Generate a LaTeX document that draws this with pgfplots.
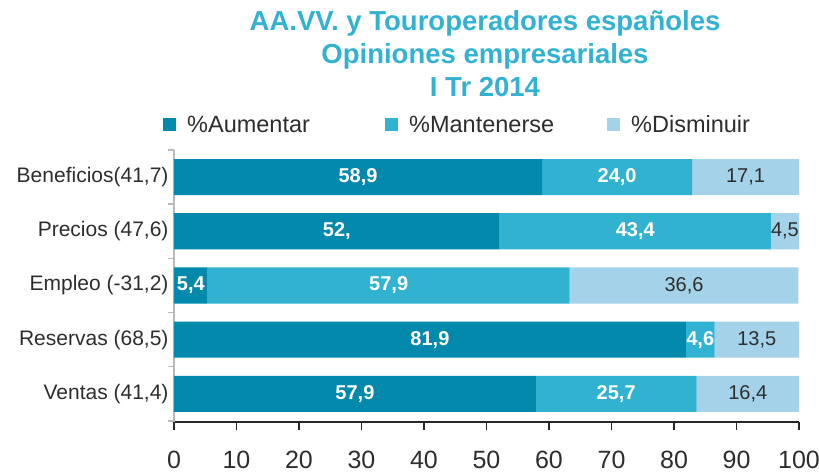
\documentclass[border=0pt]{standalone}
\usepackage{fontspec}
\setmainfont{Liberation Sans}
\usepackage{pgfplots}
\usepackage{pgfplotstable}
\pgfplotsset{compat=1.18}
\definecolor{cA}{RGB}{2,137,171}
\definecolor{cM}{RGB}{50,178,209}
\definecolor{cD}{RGB}{164,210,232}
\definecolor{txt}{RGB}{45,45,45}
\pgfplotstableread{
y a alab m mlab d dlab
0 57.9 57,9 25.7 25,7 16.4 16,4
1 81.9 81,9 4.6 4,6 13.5 13,5
2 5.4 5,4 57.9 57,9 36.6 36,6
3 52.1 52, 43.4 43,4 4.5 4,5
4 58.9 58,9 24.0 24,0 17.1 17,1
}\data
\begin{document}
\begin{tikzpicture}
\begin{axis}[
  at={(0,0)}, anchor=south west,
  scale only axis, width=625bp, height=272bp,
  xbar stacked, bar width=0.667,
  xmin=0, xmax=100, ymin=-0.52, ymax=4.5,
  axis lines*=left,
  x axis line style={draw=black!85, line width=1.8bp},
  y axis line style={draw=gray!55, line width=1.8bp},
  tick align=outside,
  xtick={0,10,...,100},
  xtick style={draw=black!85, line width=1.8bp},
  major tick length=8bp,
  ytick={0,1,2,3,4},
  yticklabels={{Ventas (41,4)},{Reservas (68,5)},{Empleo (-31,2)},{Precios (47,6)},{Beneficios(41,7)}},
  ytick style={draw=none},
  extra y ticks={-0.5,0.5,1.5,2.5,3.5,4.5},
  extra y tick labels={},
  extra y tick style={ytick style={draw=gray!55, line width=1.5bp}, major tick length=6bp},
  /pgf/number format/assume math mode=true,
  xticklabel style={font=\fontsize{25bp}{25bp}\selectfont, text=txt, yshift=-18bp},
  yticklabel style={font=\fontsize{21bp}{21bp}\selectfont, text=txt, xshift=6bp},
  legend columns=3,
  legend style={at={(-0.0176,1.092)}, anchor=west, draw=none, fill=none, inner sep=0pt,
    font=\fontsize{23.5bp}{23.5bp}\selectfont, text=txt,
    nodes={inner xsep=0pt, text width=185bp, align=left},
    /tikz/every odd column/.append style={column sep=11bp},
    /tikz/every even column/.append style={column sep=13bp}},
  legend image code/.code={\fill[#1] (0bp,-6.5bp) rectangle (13bp,6.5bp);},
  point meta=explicit symbolic,
  nodes near coords,
  every node near coord/.append style={anchor=center},
]
\addplot[fill=cA, draw=none,
  nodes near coords style={text=white, font=\fontsize{20bp}{20bp}\selectfont\bfseries}]
  table[x=a, y=y, meta=alab] {\data};
\addlegendentry{\%Aumentar}
\addplot[fill=cM, draw=none,
  nodes near coords style={text=white, font=\fontsize{20bp}{20bp}\selectfont\bfseries}]
  table[x=m, y=y, meta=mlab] {\data};
\addlegendentry{\%Mantenerse}
\addplot[fill=cD, draw=none,
  nodes near coords style={text=txt, font=\fontsize{20bp}{20bp}\selectfont}]
  table[x=d, y=y, meta=dlab] {\data};
\addlegendentry{\%Disminuir}
\end{axis}
\node[align=center, text=cM, font=\fontsize{27.5bp}{33bp}\selectfont\bfseries] at (311bp,368bp)
  {AA.VV. y Touroperadores españoles\\Opiniones empresariales\\I Tr 2014};
\pgfresetboundingbox
\path[use as bounding box] (-174bp,-52bp) rectangle (645bp,422bp);
\end{tikzpicture}
\end{document}
